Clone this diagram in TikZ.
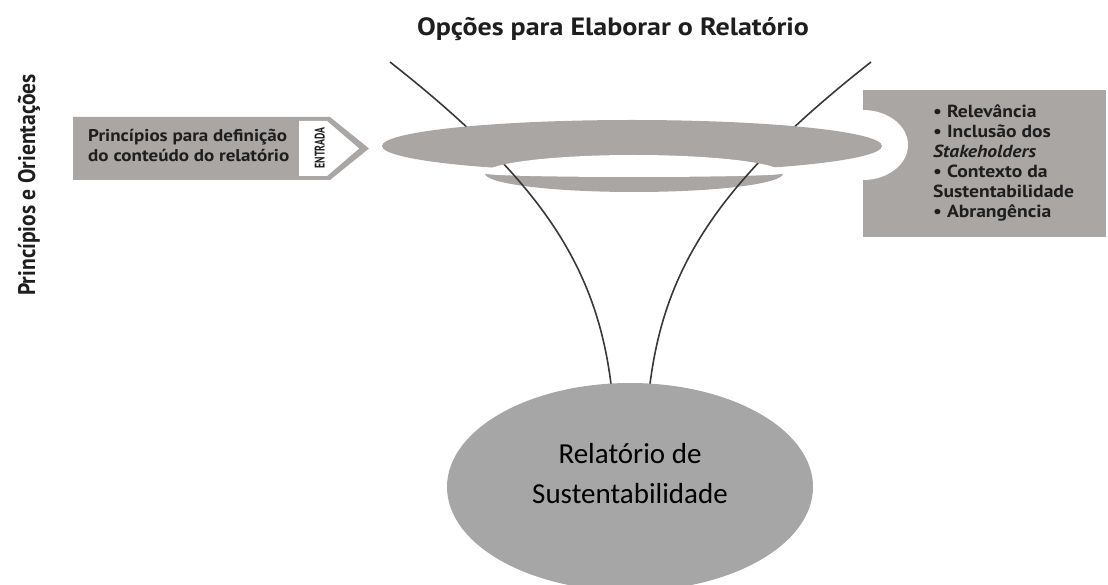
\documentclass[tikz,border=0pt]{standalone}
\usepackage{fontspec}
\setmainfont{PT Sans}
\newfontfamily\calib{Carlito}
\newfontfamily\cond[FakeStretch=0.9]{PT Sans}
\newfontfamily\narrowcaps[FakeStretch=0.7]{PT Sans}
\newfontfamily\wide[FakeStretch=1.12]{PT Sans}
\usetikzlibrary{shapes.geometric}
\definecolor{discgrey}{HTML}{A9A6A4}
\definecolor{ovalgrey}{HTML}{A6A6A6}
\definecolor{ink}{HTML}{1E1E1E}
\definecolor{wire}{HTML}{383838}
\begin{document}
\begin{tikzpicture}[x=1pt,y=-1pt,
  wirestyle/.style={draw=wire,line width=1.6pt},
  boxtext/.style={anchor=base west,inner sep=0,text=ink,font=\wide\bfseries\fontsize{17}{20}\selectfont},
  listtext/.style={anchor=base west,inner sep=0,text=ink,font=\wide\bfseries\fontsize{17.5}{20}\selectfont},
  ovaltext/.style={anchor=base,inner sep=0,text=black,font=\calib\fontsize{29}{34}\selectfont}]
\useasboundingbox (0,0) rectangle (1108,585);
% title
\node[anchor=base,inner sep=0,text=ink,font=\wide\bfseries\fontsize{25}{30}\selectfont] (title) at (613,36) {Opções para Elaborar o Relatório};
% side label
\node[rotate=90,anchor=base,inner sep=0,text=ink,font=\cond\bfseries\fontsize{24}{28}\selectfont] (side) at (35,185) {Princípios e Orientações};
% right box with notch
\fill[discgrey] (863,90) rectangle (1106,237);
\fill[white] (863,145) ellipse [x radius=45, y radius=35];
\node[listtext] (r1) at (933,118) {• Relevância};
\node[listtext] (r2) at (933,138) {• Inclusão dos};
\node[listtext] (r3) at (933,158) {\itshape Stakeholders};
\node[listtext] (r4) at (933,178) {• Contexto da};
\node[listtext] (r5) at (933,198) {Sustentabilidade};
\node[listtext] (r6) at (933,218) {• Abrangência};
% left input box
\fill[discgrey] (73,117) -- (330,117) -- (369,148.5) -- (330,180) -- (73,180) -- cycle;
\fill[white] (299,121) -- (327,121) -- (359,148.5) -- (327,176) -- (299,176) -- cycle;
\node[boxtext] (l1) at (88,142) {Princípios para definição};
\node[boxtext] (l2) at (88,162) {do conteúdo do relatório};
\node[rotate=90,anchor=base,inner sep=0,text=ink,font=\narrowcaps\bfseries\fontsize{14}{16}\selectfont] (entrada) at (324.5,148) {ENTRADA};
% funnel lines
\coordinate (ltop) at (390,62);
\coordinate (rtop) at (871,62);
\coordinate (lend) at (611,384);
\coordinate (rend) at (650,384);
\draw[wirestyle] (ltop) .. controls (540,180) and (596,265) .. (lend);
\draw[wirestyle] (rtop) .. controls (721,180) and (665,265) .. (rend);
% disc
\fill[discgrey] (632,146) ellipse [x radius=250, y radius=26];
\fill[white] (634,173.5) ellipse [x radius=149, y radius=18.5];
\begin{scope}
  \clip (480,173.5) rectangle (790,200);
  \fill[discgrey] (634,173.5) ellipse [x radius=149, y radius=18.5];
\end{scope}
\fill[white] (634,173.5) ellipse [x radius=149, y radius=3.5];
\begin{scope}
  \clip (634,173.5) ellipse [x radius=149, y radius=18.5];
  \draw[wirestyle] (ltop) .. controls (540,180) and (596,265) .. (lend);
  \draw[wirestyle] (rtop) .. controls (721,180) and (665,265) .. (rend);
\end{scope}
% result ellipse
\node[ellipse,fill=ovalgrey,minimum width=366pt,minimum height=208pt,inner sep=0] (rep) at (630,487) {};
\node[ovaltext] (o1) at (630,463) {Relatório de};
\node[ovaltext] (o2) at (630,503) {Sustentabilidade};
\end{tikzpicture}
\end{document}
